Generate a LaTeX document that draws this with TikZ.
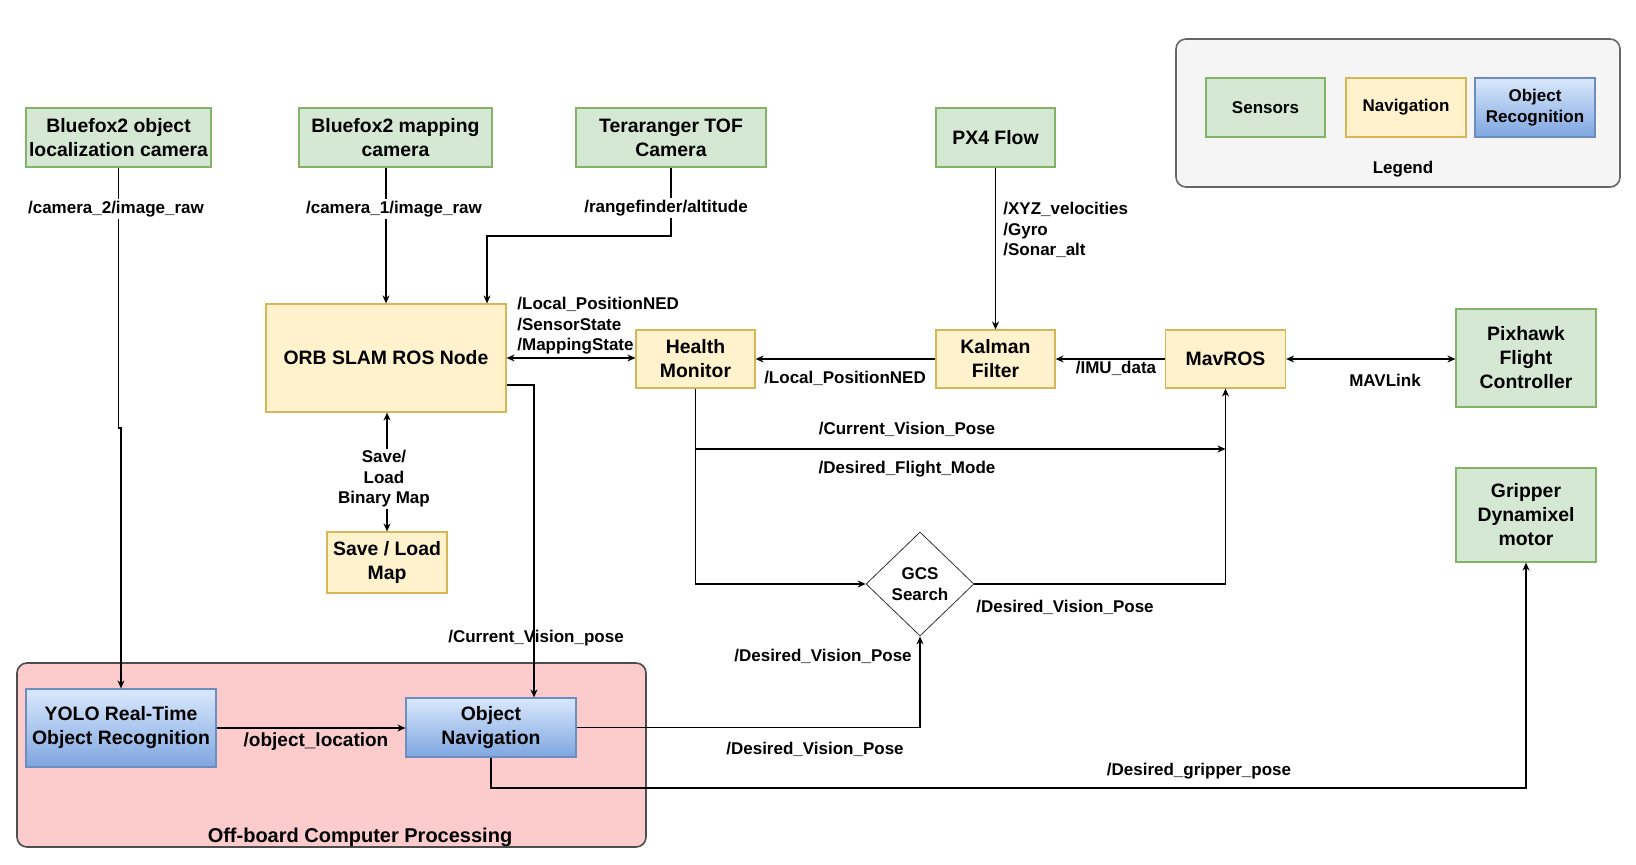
\documentclass[tikz,border=0pt]{standalone}
\usepackage{fontspec}
\setmainfont{Liberation Sans}
\usetikzlibrary{arrows.meta,shapes.geometric}
\definecolor{sF}{HTML}{D5E8D4}
\definecolor{sS}{HTML}{82B366}
\definecolor{nF}{HTML}{FFF2CC}
\definecolor{nS}{HTML}{D6B656}
\definecolor{oT}{HTML}{DAE8FC}
\definecolor{oB}{HTML}{7EA6E0}
\definecolor{oS}{HTML}{6C8EBF}
\definecolor{lgF}{HTML}{F5F5F5}
\definecolor{lgS}{HTML}{666666}
\definecolor{ofF}{HTML}{FCCCCC}
\definecolor{ofS}{HTML}{4D4D4D}
\newcommand\nodefnt{\fontsize{9.7}{12}\selectfont\bfseries}
\newcommand\lblfnt{\fontsize{8.5}{10.2}\selectfont\bfseries}
\begin{document}
\begin{tikzpicture}[x=0.5pt,y=-0.5pt,
  sz/.style 2 args={minimum width=#1*0.5pt,minimum height=#2*0.5pt},
  basebox/.style={draw,line width=0.6pt,inner sep=0pt,align=center,font=\nodefnt},
  sensor/.style={basebox,fill=sF,draw=sS},
  nav/.style={basebox,fill=nF,draw=nS},
  objrec/.style={basebox,top color=oT,bottom color=oB,draw=oS},
  lbl/.style={font=\lblfnt,inner sep=1pt,align=left},
  wlbl/.style={lbl,fill=white},
  wire/.style={line width=0.6pt},
  conn/.style={wire,-{Stealth[length=4pt,width=3.5pt]}},
  bconn/.style={wire,{Stealth[length=4pt,width=3.5pt]}-{Stealth[length=4pt,width=3.5pt]}}]
\useasboundingbox[fill=white] (0,0) rectangle (1636,865);

% containers
\node[draw=ofS,fill=ofF,rounded corners=5pt,line width=0.8pt,sz={629}{184}] (off) at (331.5,755) {};
\node[draw=lgS,fill=lgF,rounded corners=5pt,line width=0.8pt,sz={444}{148}] (legend) at (1398,113) {};

% nodes
\node[sensor,sz={185}{59}] (cam2) at (118.5,137.5) {Bluefox2 object\\localization camera};
\node[sensor,sz={193}{59}] (cam1) at (395.5,137.5) {Bluefox2 mapping\\camera};
\node[sensor,sz={190}{59}] (tera) at (671,137.5) {Teraranger TOF\\Camera};
\node[sensor,sz={119}{59}] (px4) at (995.5,137.5) {PX4 Flow};
\node[nav,sz={240}{108}] (orb) at (386,358) {ORB SLAM ROS Node};
\node[nav,sz={119}{58}] (health) at (695.5,359) {Health\\Monitor};
\node[nav,sz={119}{58}] (kalman) at (995.5,359) {Kalman\\Filter};
\node[nav,sz={120}{58}] (mavros) at (1225.5,359) {MavROS};
\node[sensor,sz={140}{98}] (pix) at (1526,358) {Pixhawk\\Flight\\Controller};
\node[sensor,sz={140}{94}] (grip) at (1526,515) {Gripper\\Dynamixel\\motor};
\node[nav,sz={120}{61}] (map) at (387,562.5) {Save / Load\\Map};
\node[diamond,draw=black!80,line width=0.4pt,fill=white,inner sep=0pt,sz={108}{104},
  font=\fontsize{8.5}{10.5}\selectfont\bfseries,align=center] (gcs) at (920,584) {GCS\\Search};
\node[objrec,sz={190}{78}] (yolo) at (121,728) {YOLO Real-Time\\Object Recognition};
\node[objrec,sz={170}{59}] (onav) at (491,727.5) {Object\\Navigation};

% legend
\node[sensor,sz={119}{59},font=\lblfnt] (lsens) at (1265.5,107.5) {Sensors};
\node[nav,sz={120}{59},font=\lblfnt] (lnav) at (1406,107.5) {Navigation};
\node[objrec,sz={120}{59},font=\lblfnt] (lobj) at (1535,107.5) {Object\\Recognition};
\node[font=\lblfnt] (legendlbl) at (1403,169) {Legend};
\node[font=\fontsize{10}{12}\selectfont\bfseries] (offlbl) at (360,837) {Off-board Computer Processing};

% coordinates
\coordinate (j1) at (118.5,428);
\coordinate (j2) at (121,428);
\coordinate (t1) at (487,236);
\coordinate (o1) at (534,385);
\coordinate (h1) at (695.5,449);
\coordinate (g1) at (491,788);

% connectors
\draw[conn] (cam2.south) -- (j1) -- (j2) -- (yolo.north);
\draw[conn] (orb.north |- cam1.south) -- (orb.north);
\draw[conn] (tera.south) |- (t1) -- (t1 |- orb.north);
\draw[conn] (px4.south) -- (kalman.north);
\draw[bconn] (orb.east) -- (orb.east -| health.west);
\draw[conn] (kalman.west) -- (kalman.west -| health.east);
\draw[conn] (mavros.west) -- (mavros.west -| kalman.east);
\draw[bconn] (mavros.east) -- (mavros.east -| pix.west);
\draw[conn] (orb.east |- o1) -- (o1) -- (o1 |- onav.north);
\draw[bconn] (map.north) -- (map.north |- orb.south);
\draw[conn] (health.south) |- (gcs.west);
\draw[conn] (h1) -- (h1 -| mavros.south);
\draw[conn] (gcs.east) -| (mavros.south);
\draw[conn] (onav.east) -| (gcs.south);
\draw[conn] (yolo.east) -- (yolo.east -| onav.west);
\draw[conn] (onav.south) -- (g1) -| (grip.south);

% labels
\node[wlbl] (l1) at (116,209) {/camera\_2/image\_raw};
\node[wlbl] (l2) at (394,209) {/camera\_1/image\_raw};
\node[wlbl] (l3) at (666,208) {/rangefinder/altitude};
\node[lbl,anchor=north west] (l4) at (1001,200) {/XYZ\_velocities\\/Gyro\\/Sonar\_alt};
\node[lbl,anchor=north west] (l5) at (515,295) {/Local\_PositionNED\\/SensorState\\/MappingState};
\node[lbl] (l6) at (845,378) {/Local\_PositionNED};
\node[lbl] (l7) at (1116,368) {/IMU\_data};
\node[lbl] (l8) at (1385,380) {MAVLink};
\node[lbl] (l9) at (907,429) {/Current\_Vision\_Pose};
\node[lbl] (l10) at (907,469) {/Desired\_Flight\_Mode};
\node[wlbl,align=center] (l11) at (384,479) {Save/\\Load\\Binary Map};
\node[lbl] (l12) at (536,638) {/Current\_Vision\_pose};
\node[lbl] (l13) at (1065,607) {/Desired\_Vision\_Pose};
\node[lbl] (l14) at (823,656) {/Desired\_Vision\_Pose};
\node[lbl] (l15) at (815,749) {/Desired\_Vision\_Pose};
\node[lbl] (l16) at (1199,771) {/Desired\_gripper\_pose};
\node[lbl,font=\fontsize{9.5}{11}\selectfont\bfseries] (l17) at (316,742) {/object\_location};
\end{tikzpicture}
\end{document}
